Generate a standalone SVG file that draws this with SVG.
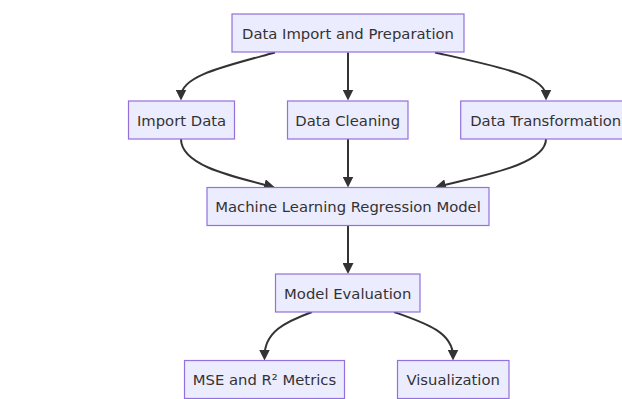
<svg xmlns="http://www.w3.org/2000/svg" width="622" height="399" viewBox="0 0 622 399">
<defs>
<style>
.node rect{fill:#ECECFF;stroke:#9370DB;stroke-width:1.2}
.node text{font-family:"DejaVu Sans","Liberation Sans",sans-serif;font-size:14.8px;fill:#333;text-anchor:middle;dominant-baseline:central}
.edges path{fill:none;stroke:#333;stroke-width:2}
</style>
<marker id="arrow" viewBox="0 0 11 11" refX="7" refY="5.5" markerWidth="11" markerHeight="11" markerUnits="userSpaceOnUse" orient="auto">
<path d="M0,0 L11,5.5 L0,11 z" fill="#333"/>
</marker>
</defs>
<rect width="622" height="399" fill="#fff"/>
<g class="edges">
<path d="M275,52.5 C222,67 181,76 181,96.5" marker-end="url(#arrow)"/>
<path d="M348,52.5 L348,96.5" marker-end="url(#arrow)"/>
<path d="M435,52.5 C500,67 546,76 546,96.5" marker-end="url(#arrow)"/>
<path d="M181,139 C181,165 230,176 271.2,186.4" marker-end="url(#arrow)"/>
<path d="M348,139 L348,183.5" marker-end="url(#arrow)"/>
<path d="M546,139 C546,165 480,176 438.8,186.4" marker-end="url(#arrow)"/>
<path d="M348,226 L348,270" marker-end="url(#arrow)"/>
<path d="M312,312 C285,322 264.5,332 264.5,356.5" marker-end="url(#arrow)"/>
<path d="M394,312 C425,323 453,332 453,356.5" marker-end="url(#arrow)"/>
</g>
<g id="n-prep" class="node"><rect x="232" y="14" width="232" height="38"/><text x="348" y="33">Data Import and Preparation</text></g>
<g id="n-import" class="node"><rect x="128.5" y="101" width="106" height="38"/><text x="181.5" y="120">Import Data</text></g>
<g id="n-clean" class="node"><rect x="287.5" y="101" width="120.5" height="38"/><text x="347.7" y="120">Data Cleaning</text></g>
<g id="n-transform" class="node"><rect x="460.7" y="101" width="170" height="38"/><text x="545.7" y="120">Data Transformation</text></g>
<g id="n-model" class="node"><rect x="207" y="187.5" width="282" height="38"/><text x="348" y="206.5">Machine Learning Regression Model</text></g>
<g id="n-eval" class="node"><rect x="275.5" y="274" width="144.5" height="38"/><text x="347.7" y="293">Model Evaluation</text></g>
<g id="n-mse" class="node"><rect x="184.5" y="360.5" width="160" height="38"/><text x="264.5" y="379.5">MSE and R² Metrics</text></g>
<g id="n-vis" class="node"><rect x="397.5" y="360.5" width="111.5" height="38"/><text x="453.2" y="379.5">Visualization</text></g>
</svg>
